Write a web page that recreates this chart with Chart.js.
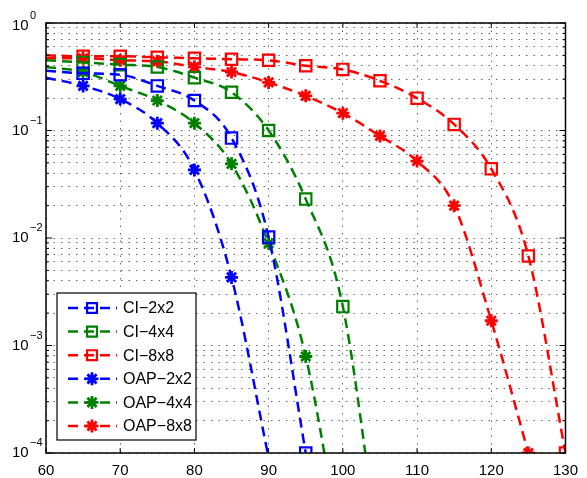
<!DOCTYPE html>
<html>
<head>
<meta charset="utf-8">
<script src="https://cdn.jsdelivr.net/npm/chart.js@4.4.0/dist/chart.umd.min.js"></script>
<style>
  html, body { margin: 0; padding: 0; background: #fff; }
</style>
</head>
<body>
<canvas id="berChart" width="587" height="478"></canvas>
<script>
// x positions (SNR) shared by all curves
const snrValues = [60, 65, 70, 75, 80, 85, 90, 95, 100, 105, 110, 115, 120, 125, 130];

// values, null = no point
const ci2x2  = [0.36, 0.34, 0.33, 0.26, 0.19, 0.085, 0.0102, 0.0001];
const ci4x4  = [0.45, 0.43, 0.41, 0.39, 0.31, 0.227, 0.10, 0.023, 0.0023, 0.00001];
const ci8x8  = [0.50, 0.49, 0.49, 0.48, 0.47, 0.46, 0.45, 0.40, 0.37, 0.29, 0.20, 0.114, 0.044, 0.0068, 0.0001];
const oap2x2 = [0.31, 0.26, 0.196, 0.117, 0.043, 0.0043, 0.00009];
const oap4x4 = [0.39, 0.35, 0.26, 0.19, 0.117, 0.049, 0.0089, 0.00079, 0.00001];
const oap8x8 = [0.47, 0.47, 0.45, 0.44, 0.39, 0.35, 0.28, 0.21, 0.145, 0.089, 0.052, 0.020, 0.0017, 0.0001];

// markers drawn only for these indices (first point and run-off points have none)
const markerFrom = [1, 1, 1, 1, 1, 1];
const markerTo   = [7, 8, 14, 5, 7, 13];

const seriesNames  = ['CI\u22122x2', 'CI\u22124x4', 'CI\u22128x8', 'OAP\u22122x2', 'OAP\u22124x4', 'OAP\u22128x8'];
const seriesValues = [ci2x2, ci4x4, ci8x8, oap2x2, oap4x4, oap8x8];
const seriesColors = ['#0000ff', '#008000', '#ff0000', '#0000ff', '#008000', '#ff0000'];
const seriesMarker = ['rect', 'rect', 'rect', 'star', 'star', 'star'];

const xTicks = [60, 70, 80, 90, 100, 110, 120, 130];
const yDecades = [-4, -3, -2, -1, 0];

const FONT = 'Liberation Sans, Arial, Helvetica, sans-serif';

const datasets = seriesValues.map(function(vals, i) {
  const pts = [];
  const radii = [];
  vals.forEach(function(v, k) {
    if (v === null) return;
    pts.push({ x: snrValues[k], y: v });
    radii.push(k >= markerFrom[i] && k <= markerTo[i] ? (seriesMarker[i] === 'rect' ? 8 : 6.5) : 0);
  });
  return {
    label: seriesNames[i],
    data: pts,
    borderColor: seriesColors[i],
    backgroundColor: 'rgba(0,0,0,0)',
    borderWidth: 2.5,
    borderDash: [10, 6],
    cubicInterpolationMode: 'monotone',
    pointStyle: seriesMarker[i],
    pointRadius: radii,
    pointBorderWidth: seriesMarker[i] === 'rect' ? 2.2 : 2.8,
    pointBorderColor: seriesColors[i],
    pointBackgroundColor: 'rgba(0,0,0,0)',
    pointHoverRadius: 0
  };
});

// frame, inward ticks, y labels with superscripts, legend
const matlabLook = {
  id: 'matlabLook',
  afterDraw(chart) {
    const ctx = chart.ctx;
    const a = chart.chartArea;
    const xs = chart.scales.x, ys = chart.scales.y;
    ctx.save();
    ctx.strokeStyle = '#000';
    ctx.lineWidth = 1.5;
    ctx.setLineDash([]);
    ctx.strokeRect(a.left, a.top, a.right - a.left, a.bottom - a.top);

    ctx.lineWidth = 1;
    xTicks.forEach(function(t) {
      const px = xs.getPixelForValue(t);
      ctx.beginPath();
      ctx.moveTo(px, a.bottom); ctx.lineTo(px, a.bottom - 5);
      ctx.moveTo(px, a.top); ctx.lineTo(px, a.top + 5);
      ctx.stroke();
    });
    yDecades.forEach(function(e) {
      for (let m = 1; m <= 9; m++) {
        if (e === 0 && m > 1) break;
        const py = ys.getPixelForValue(m * Math.pow(10, e));
        const len = m === 1 ? 6 : 3;
        ctx.beginPath();
        ctx.moveTo(a.left, py); ctx.lineTo(a.left + len, py);
        ctx.moveTo(a.right, py); ctx.lineTo(a.right - len, py);
        ctx.stroke();
      }
    });

    // y labels 10^e
    ctx.fillStyle = '#000';
    ctx.textBaseline = 'middle';
    yDecades.forEach(function(e) {
      const py = ys.getPixelForValue(Math.pow(10, e));
      const cy = e === 0 ? py + 3 : py;
      ctx.font = '15px ' + FONT;
      ctx.textAlign = 'left';
      ctx.fillText('10', 12, cy);
      ctx.font = '11px ' + FONT;
      ctx.fillText(e === 0 ? '0' : '\u2212' + Math.abs(e), 30, cy - 10);
    });

    // legend box
    const lx = 57, ly = 293, lw = 139, lh = 147;
    ctx.fillStyle = '#fff';
    ctx.fillRect(lx, ly, lw, lh);
    ctx.strokeStyle = '#000';
    ctx.lineWidth = 1.2;
    ctx.strokeRect(lx, ly, lw, lh);
    chart.data.datasets.forEach(function(ds, i) {
      const ey = 308 + i * 23.6;
      ctx.strokeStyle = ds.borderColor;
      ctx.lineWidth = 2.5;
      ctx.setLineDash([10, 6]);
      ctx.beginPath();
      ctx.moveTo(68, ey); ctx.lineTo(117, ey);
      ctx.stroke();
      ctx.setLineDash([]);
      ctx.fillStyle = 'rgba(0,0,0,0)';
      ctx.strokeStyle = ds.borderColor;
      ctx.lineWidth = ds.pointBorderWidth;
      Chart.helpers.drawPoint(ctx, {
        pointStyle: ds.pointStyle,
        radius: ds.pointStyle === 'rect' ? 7 : 6.5,
        borderWidth: ds.pointBorderWidth
      }, 92, ey);
      ctx.fillStyle = '#000';
      ctx.font = '16px ' + FONT;
      ctx.textAlign = 'left';
      ctx.textBaseline = 'middle';
      ctx.fillText(ds.label, 123, ey + 1);
    });
    ctx.restore();
  }
};

new Chart(document.getElementById('berChart').getContext('2d'), {
  type: 'line',
  data: { datasets: datasets },
  plugins: [matlabLook],
  options: {
    responsive: false,
    animation: false,
    devicePixelRatio: 1,
    layout: { padding: { top: 23, right: 13, left: 0, bottom: 0 } },
    plugins: { legend: { display: false }, tooltip: { enabled: false } },
    scales: {
      x: {
        type: 'linear',
        min: 60,
        max: 130,
        afterBuildTicks(scale) { scale.ticks = xTicks.map(function(v) { return { value: v }; }); },
        afterFit(scale) { scale.height = 25; },
        grid: { color: 'rgba(0,0,0,0.6)', lineWidth: 1, drawTicks: false },
        border: { display: false, dash: [1.5, 6] },
        ticks: { color: '#000', font: { size: 15, family: FONT }, padding: 9, maxRotation: 0 }
      },
      y: {
        type: 'logarithmic',
        min: 1e-4,
        max: 1,
        afterBuildTicks(scale) {
          const t = [];
          yDecades.forEach(function(e) {
            for (let m = 1; m <= 9; m++) {
              if (e === 0 && m > 1) break;
              t.push({ value: m * Math.pow(10, e) });
            }
          });
          scale.ticks = t;
        },
        afterFit(scale) { scale.width = 46; },
        grid: { color: 'rgba(0,0,0,0.6)', lineWidth: 1, drawTicks: false },
        border: { display: false, dash: [1.5, 6] },
        ticks: { display: false }
      }
    }
  }
});
</script>
</body>
</html>
